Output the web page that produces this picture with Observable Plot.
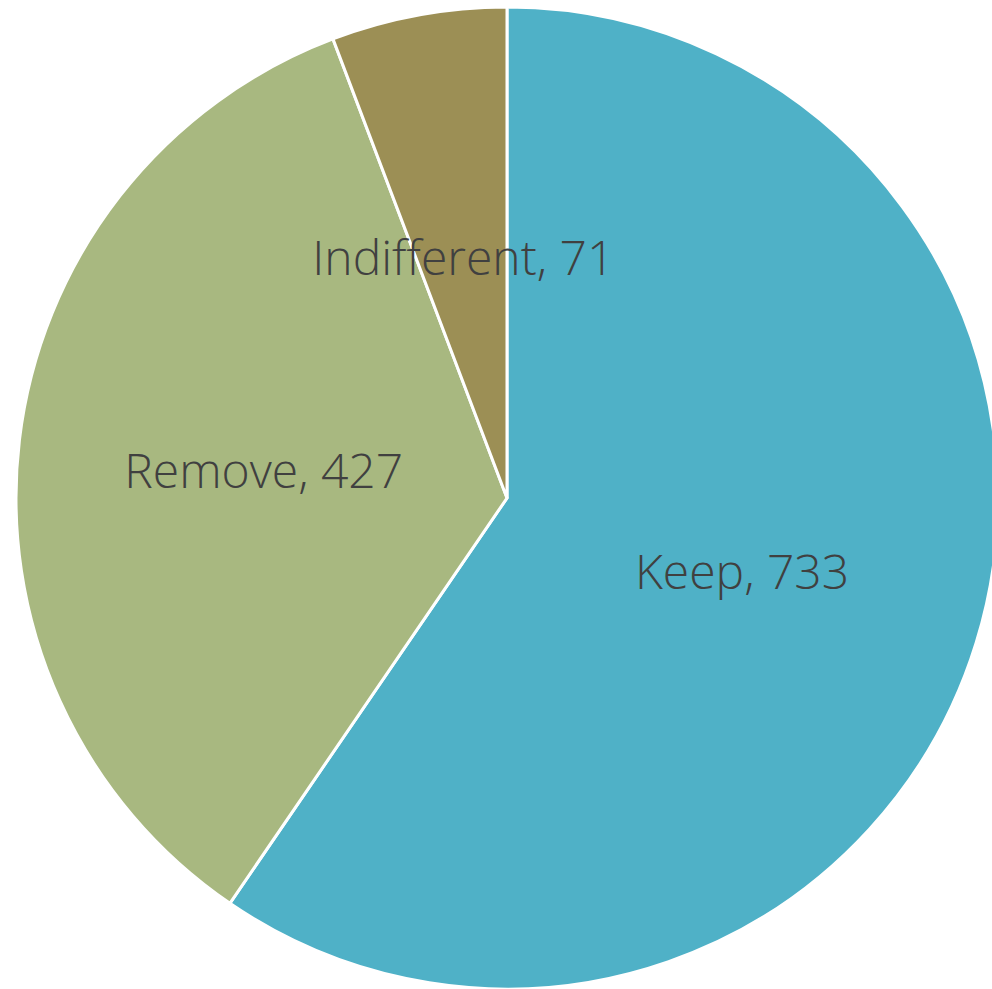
<!DOCTYPE html>
<html>
<head>
<meta charset="utf-8">
<script src="https://cdn.jsdelivr.net/npm/d3@7"></script>
<script src="https://cdn.jsdelivr.net/npm/@observablehq/plot@0.6"></script>
<style>
  html, body { margin: 0; padding: 0; background: #fff; }
  #chart svg { display: block; }
</style>
</head>
<body>
<div id="chart"></div>
<script>
const categories = ["Keep", "Remove", "Indifferent"];
const values = [733, 427, 71];
const colors = ["#4FB1C7", "#A8B880", "#9C8F55"];

const data = categories.map((c, i) => ({category: c, value: values[i]}));
const pie = d3.pie().value(d => d.value).sort(null);
const arcs = pie(data);
// label positions in unit-circle data coordinates (centroid at half radius)
const labelArc = d3.arc().innerRadius(0).outerRadius(1);
const labels = arcs.map(a => {
  const [cx, cy] = labelArc.centroid(a);
  return {x: cx, y: -cy, text: `${a.data.category}, ${a.data.value}`};
});

const W = 992, H = 989, CX = 507, CY = 498, R = 491;

const chart = Plot.plot({
  width: W,
  height: H,
  margin: 0,
  x: {domain: [-1, 1], range: [CX - R, CX + R], axis: null},
  y: {domain: [-1, 1], range: [CY + R, CY - R], axis: null},
  color: {domain: categories, range: colors},
  marks: [
    Plot.dot(arcs, {
      x: () => 0, y: () => 0, fill: d => d.data.category,
      render: (index, scales, values, dims, context) => {
        const g = d3.select(context.document.createElementNS("http://www.w3.org/2000/svg", "g"));
        const ox = scales.x(0), oy = scales.y(0);
        const r = scales.x(1) - scales.x(0);
        const arc = d3.arc().innerRadius(0).outerRadius(r);
        g.attr("transform", `translate(${ox},${oy})`);
        g.selectAll("path").data(index).join("path")
          .attr("d", i => arc(arcs[i]))
          .attr("fill", i => scales.color(arcs[i].data.category))
          .attr("stroke", "#fff")
          .attr("stroke-width", 3)
          .attr("stroke-linejoin", "miter");
        return g.node();
      }
    }),
    Plot.text(labels, {
      x: "x", y: "y", text: "text",
      dy: 3,
      fill: "#404040",
      fontSize: 48,
      fontWeight: 300,
      fontFamily: "'Open Sans', sans-serif"
    })
  ]
});
document.getElementById("chart").appendChild(chart);
</script>
</body>
</html>
